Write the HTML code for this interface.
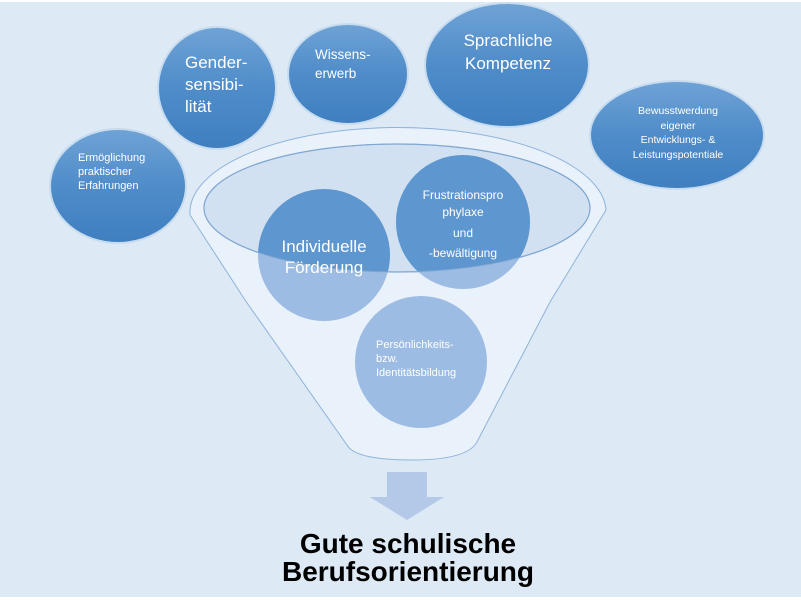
<!DOCTYPE html>
<html><head><meta charset="utf-8"><style>
html,body{margin:0;padding:0;background:#fff}
svg{display:block}
text{font-family:"Liberation Sans",sans-serif}
</style></head><body>
<svg width="801" height="600" viewBox="0 0 801 600" xmlns="http://www.w3.org/2000/svg">
<defs>
<linearGradient id="bg1" x1="0" y1="0" x2="0" y2="1">
<stop offset="0" stop-color="#6fa3d6"/><stop offset="0.5" stop-color="#4f8cc9"/><stop offset="1" stop-color="#3f7fc0"/>
</linearGradient>
<clipPath id="ell"><ellipse cx="397" cy="208" rx="193" ry="64"/></clipPath>
</defs>
<rect x="0" y="2" width="801" height="595" fill="#dde9f5"/>
<g stroke="#c8dcef" stroke-width="2" fill="url(#bg1)">
<ellipse cx="118" cy="186" rx="68" ry="57"/>
<ellipse cx="217" cy="88" rx="59" ry="61"/>
<ellipse cx="348" cy="74" rx="60" ry="50"/>
<ellipse cx="507" cy="65" rx="82" ry="62"/>
<ellipse cx="677" cy="135" rx="87" ry="54"/>
</g>
<path d="M190,215 A208,85 0 0 1 606,210 L550,302 L478,440 Q470,460 412,460 Q355,460 347,445 L245,300 Z" fill="#e9f1fa" stroke="#8fb3da" stroke-width="1"/>
<ellipse cx="397" cy="208" rx="193" ry="64" fill="#d2e1f1" stroke="#8fb3da" stroke-width="1.2"/>
<g fill="#9dbce3">
<circle cx="324" cy="255" r="66"/>
<circle cx="463" cy="222" r="67"/>
<circle cx="421" cy="362" r="66"/>
</g>
<g fill="#5e97cf" clip-path="url(#ell)">
<circle cx="324" cy="255" r="66"/>
<circle cx="463" cy="222" r="67"/>
</g>
<ellipse cx="397" cy="208" rx="193" ry="64" fill="none" stroke="#7fa6d2" stroke-width="1"/>
<path d="M387,472 H427 V497 H444 L407,520 L370,497 H387 Z" fill="#b3c9e7"/>
<g fill="#fff">
<text font-size="11" x="78" y="161">Ermöglichung</text>
<text font-size="11" x="78" y="175">praktischer</text>
<text font-size="11" x="78" y="189">Erfahrungen</text>
<text font-size="17" x="185" y="68">Gender-</text>
<text font-size="17" x="185" y="90">sensibi-</text>
<text font-size="17" x="185" y="112">lität</text>
<text font-size="13.5" x="315" y="59">Wissens-</text>
<text font-size="13.5" x="315" y="78">erwerb</text>
<text font-size="17" x="508" y="46" text-anchor="middle">Sprachliche</text>
<text font-size="17" x="508" y="69" text-anchor="middle">Kompetenz</text>
<text font-size="10.5" x="678" y="114" text-anchor="middle">Bewusstwerdung</text>
<text font-size="10.5" x="678" y="129" text-anchor="middle">eigener</text>
<text font-size="10.5" x="678" y="143" text-anchor="middle">Entwicklungs- &amp;</text>
<text font-size="10.5" x="678" y="158" text-anchor="middle">Leistungspotentiale</text>
<text font-size="17" x="324" y="252" text-anchor="middle">Individuelle</text>
<text font-size="17" x="324" y="273" text-anchor="middle">Förderung</text>
<text font-size="12" x="463" y="199" text-anchor="middle">Frustrationspro</text>
<text font-size="12" x="463" y="216" text-anchor="middle">phylaxe</text>
<text font-size="12" x="463" y="237" text-anchor="middle">und</text>
<text font-size="12" x="463" y="257" text-anchor="middle">-bewältigung</text>
<text font-size="11" x="376" y="348">Persönlichkeits-</text>
<text font-size="11" x="376" y="362">bzw.</text>
<text font-size="11" x="376" y="376">Identitätsbildung</text>
</g>
<g fill="#000" font-weight="bold" font-size="28" text-anchor="middle">
<text x="408" y="553">Gute schulische</text>
<text x="408" y="581">Berufsorientierung</text>
</g>
</svg>
</body></html>
